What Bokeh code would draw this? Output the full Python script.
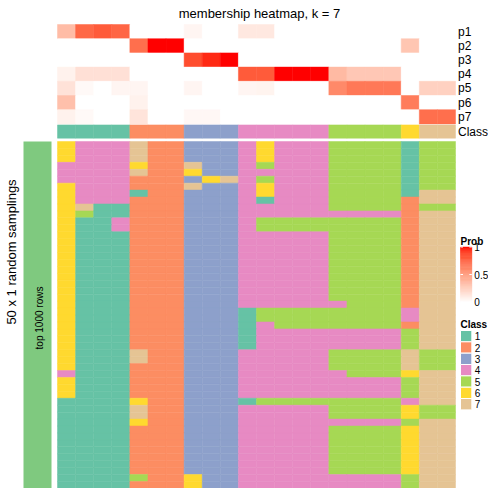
import math
from bokeh.plotting import figure
from bokeh.models import Range1d
from bokeh.embed import file_html
from bokeh.resources import INLINE
from bokeh.core.properties import value

# ---------------- data ----------------
title = "membership heatmap, k = 7"
classes = ["1", "2", "3", "4", "5", "6", "7"]
class_colors = ["#66C2A5", "#FC8D62", "#8DA0CB", "#E78AC3", "#A6D854", "#FFD92F", "#E5C494"]
prob_names = ["p1", "p2", "p3", "p4", "p5", "p6", "p7"]

p1 = [0.35, 0.75, 0.80, 0.76, 0, 0, 0, 0.05, 0, 0, 0.12, 0.12, 0, 0, 0, 0, 0, 0, 0, 0, 0, 0]
p2 = [0, 0, 0, 0, 0.72, 1.0, 1.0, 0, 0, 0, 0, 0, 0, 0, 0, 0, 0, 0, 0, 0.30, 0, 0]
p3 = [0, 0, 0, 0, 0, 0, 0, 0.85, 0.95, 1.0, 0, 0, 0, 0, 0, 0, 0, 0, 0, 0, 0, 0]
p4 = [0.07, 0.16, 0.16, 0.16, 0, 0, 0, 0, 0, 0, 0.80, 0.80, 1.0, 1.0, 1.0, 0.36, 0.29, 0.29, 0.29, 0, 0, 0]
p5 = [0.15, 0.03, 0, 0.05, 0.05, 0, 0, 0.05, 0, 0, 0.05, 0.06, 0, 0, 0, 0.60, 0.68, 0.68, 0.68, 0, 0.24, 0.24]
p6 = [0.33, 0, 0, 0, 0.07, 0, 0, 0, 0, 0, 0, 0, 0, 0, 0, 0, 0, 0, 0, 0.66, 0, 0]
p7 = [0.07, 0.03, 0, 0, 0.14, 0, 0, 0.04, 0.04, 0, 0, 0, 0, 0, 0, 0, 0, 0, 0, 0, 0.72, 0.72]
prob_rows = [p1, p2, p3, p4, p5, p6, p7]

sample_class = [1, 1, 1, 1, 2, 2, 2, 3, 3, 3, 4, 4, 4, 4, 4, 5, 5, 5, 5, 6, 7, 7]

membership = [
    "6444722333464445555155",
    "6444722333464445555155",
    "6444722333464445555155",
    "4444622733454445555155",
    "4444722633444445555155",
    "4444222367454445555155",
    "6444222733464445555155",
    "6444122333464445555177",
    "6444222333414445555277",
    "6711222333444445555255",
    "6511222333444444444277",
    "6114222333455555555277",
    "6114222333455555555277",
    "6111222333444445555277",
    "6111222333444445555277",
    "6111222333444445555277",
    "6111222333444445555277",
    "6111222333444445555277",
    "6111222333444445555277",
    "6111222333444445555277",
    "6111222333444445555277",
    "6111222333444445555277",
    "6111222333444445555277",
    "6111222333444444555277",
    "6111222333155555555477",
    "6111222333155555555477",
    "6111222333145555555277",
    "6111222333144444444577",
    "6111222333144444444577",
    "6111222333144444444577",
    "6111722333444445555755",
    "6111722333444445555755",
    "6111222333444445555755",
    "4111222333444444555677",
    "6111222333444444444577",
    "6111222333444444444577",
    "6111222333444444444577",
    "1111622333155555555477",
    "1111722333444445555655",
    "1111722333444445555655",
    "1111622333444444444577",
    "1111222333444445555677",
    "1111222333444445555677",
    "1111222333444445555677",
    "1111222333444445555677",
    "1111222333444445555677",
    "1111222333444445555677",
    "1111222333444445555677",
    "1111522633444444444577",
    "1111222633444444444577",
]

prob_ticks = [0, 0.5, 1]
prob_tick_labels = ["0", "0.5", "1"]
left_label = "50 x 1 random samplings"
bar_label = "top 1000 rows"

# ---------------- colour map (white -> red, interpolated in Lab) ----------------
def srgb_to_lin(c):
    c = c / 255.0
    return c / 12.92 if c <= 0.04045 else ((c + 0.055) / 1.055) ** 2.4

def lin_to_srgb(c):
    c = max(0.0, min(1.0, c))
    v = 12.92 * c if c <= 0.0031308 else 1.055 * c ** (1 / 2.4) - 0.055
    return int(round(max(0, min(1, v)) * 255))

def rgb_to_lab(rgb):
    r, g, b = [srgb_to_lin(v) for v in rgb]
    X = 0.4124 * r + 0.3576 * g + 0.1805 * b
    Y = 0.2126 * r + 0.7152 * g + 0.0722 * b
    Z = 0.0193 * r + 0.1192 * g + 0.9505 * b
    Xn, Yn, Zn = 0.95047, 1.0, 1.08883
    def f(t):
        return t ** (1 / 3) if t > 216 / 24389 else (24389 / 27 * t + 16) / 116
    fx, fy, fz = f(X / Xn), f(Y / Yn), f(Z / Zn)
    return (116 * fy - 16, 500 * (fx - fy), 200 * (fy - fz))

def lab_to_rgb(lab):
    L, a, b = lab
    fy = (L + 16) / 116
    fx = fy + a / 500
    fz = fy - b / 200
    def finv(t):
        return t ** 3 if t ** 3 > 216 / 24389 else (116 * t - 16) / (24389 / 27)
    Xn, Yn, Zn = 0.95047, 1.0, 1.08883
    X, Y, Z = finv(fx) * Xn, finv(fy) * Yn, finv(fz) * Zn
    r = 3.2406 * X - 1.5372 * Y - 0.4986 * Z
    g = -0.9689 * X + 1.8758 * Y + 0.0415 * Z
    bb = 0.0557 * X - 0.2040 * Y + 1.0570 * Z
    return "#%02x%02x%02x" % (lin_to_srgb(r), lin_to_srgb(g), lin_to_srgb(bb))

LAB_W = rgb_to_lab((255, 255, 255))
LAB_R = rgb_to_lab((255, 0, 0))

def prob_color(v):
    v = max(0.0, min(1.0, v))
    return lab_to_rgb(tuple(LAB_W[i] + (LAB_R[i] - LAB_W[i]) * v for i in range(3)))

# ---------------- layout (canvas pixel space) ----------------
FONT = value("Liberation Sans")
W = H = 488
HM_X0, HM_X1 = 57.0, 455.0
ncol = len(sample_class)
col_w = (HM_X1 - HM_X0) / ncol
TOP_Y0, PROB_H = 24.0, 14.2
CLASS_Y0, CLASS_Y1 = 124.4, 137.7
BOT_Y0, BOT_Y1 = 141.0, 488.0
nrow = len(membership)
row_h = (BOT_Y1 - BOT_Y0) / nrow
LABEL_X = HM_X1 + 2.5
LEG_X0, LEG_W = HM_X1 + 5.0, 11.34
LEG_LAB_X = LEG_X0 + LEG_W + 2.5

p = figure(width=W, height=H, x_range=Range1d(0, W), y_range=Range1d(H, 0),
           output_backend="svg", toolbar_location=None, min_border=0,
           x_axis_location=None, y_axis_location=None)
p.grid.grid_line_color = None
p.outline_line_color = None
p.background_fill_color = "white"
p.border_fill_color = "white"

# top probability heatmap
L, R, T, B, C = [], [], [], [], []
for i, row in enumerate(prob_rows):
    for j, v in enumerate(row):
        L.append(HM_X0 + j * col_w); R.append(HM_X0 + (j + 1) * col_w)
        T.append(TOP_Y0 + i * PROB_H); B.append(TOP_Y0 + (i + 1) * PROB_H)
        C.append(prob_color(v))
p.quad(left=L, right=R, top=T, bottom=B, fill_color=C, line_color=C, line_width=0.5)

# class annotation row
L, R, C = [], [], []
for j, k in enumerate(sample_class):
    L.append(HM_X0 + j * col_w); R.append(HM_X0 + (j + 1) * col_w)
    C.append(class_colors[k - 1])
p.quad(left=L, right=R, top=[CLASS_Y0] * ncol, bottom=[CLASS_Y1] * ncol,
       fill_color=C, line_color=C, line_width=0.5)

# row labels
lab_y = [TOP_Y0 + (i + 0.5) * PROB_H for i in range(len(prob_names))] + [(CLASS_Y0 + CLASS_Y1) / 2]
p.text(x=[LABEL_X] * len(lab_y), y=lab_y, text=prob_names + ["Class"], text_font=FONT,
       text_font_size="12px", text_align="left", text_baseline="middle", text_color="black")

# membership heatmap
L, R, T, B, C = [], [], [], [], []
for i, row in enumerate(membership):
    for j, ch in enumerate(row):
        L.append(HM_X0 + j * col_w); R.append(HM_X0 + (j + 1) * col_w)
        T.append(BOT_Y0 + i * row_h); B.append(BOT_Y0 + (i + 1) * row_h)
        C.append(class_colors[int(ch) - 1])
p.quad(left=L, right=R, top=T, bottom=B, fill_color=C, line_color=C, line_width=0.5)

# left bar
p.quad(left=[23], right=[51], top=[BOT_Y0], bottom=[BOT_Y1], fill_color="#7FC97F", line_color=None)
p.text(x=[38.5], y=[(BOT_Y0 + BOT_Y1) / 2 + 3], text=[bar_label], angle=math.pi / 2, text_font=FONT,
       text_font_size="10px", text_align="center", text_baseline="middle", text_color="black")
p.text(x=[11], y=[251.5], text=[left_label], angle=math.pi / 2, text_font=FONT,
       text_font_size="13px", text_align="center", text_baseline="middle", text_color="black")

# title
p.text(x=[259], y=[13], text=[title], text_font=FONT, text_font_size="13px",
       text_align="center", text_baseline="alphabetic", text_color="black")

# Prob legend
PY0, PY1 = 301.5, 246.5  # value 0 -> PY0, value 1 -> PY1
def py(v):
    return PY0 + (PY1 - PY0) * v
nsl = 60
vals = [i / nsl for i in range(nsl)]
p.quad(left=[LEG_X0] * nsl, right=[LEG_X0 + LEG_W] * nsl,
       bottom=[py(v) for v in vals], top=[py(v + 1 / nsl) for v in vals],
       fill_color=[prob_color(v + 0.5 / nsl) for v in vals],
       line_color=[prob_color(v + 0.5 / nsl) for v in vals], line_width=0.5)
tk_y = [py(v) for v in prob_ticks]
p.segment(x0=[LEG_X0] * 3, x1=[LEG_X0 + 2.5] * 3, y0=tk_y, y1=tk_y, line_color="white", line_width=1)
p.segment(x0=[LEG_X0 + LEG_W - 2.5] * 3, x1=[LEG_X0 + LEG_W] * 3, y0=tk_y, y1=tk_y,
          line_color="white", line_width=1)
p.text(x=[LEG_LAB_X] * 3, y=tk_y, text=prob_tick_labels, text_font=FONT, text_font_size="10px",
       text_align="left", text_baseline="middle", text_color="black")
p.text(x=[LEG_X0], y=[240.7], text=["Prob"], text_font=FONT, text_font_size="10px",
       text_font_style="bold", text_align="left", text_baseline="alphabetic", text_color="black")

# Class legend
CY0 = 330.0
p.text(x=[LEG_X0], y=[324.0], text=["Class"], text_font=FONT, text_font_size="10px",
       text_font_style="bold", text_align="left", text_baseline="alphabetic", text_color="black")
n = len(classes)
p.quad(left=[LEG_X0] * n, right=[LEG_X0 + LEG_W] * n,
       top=[CY0 + k * LEG_W for k in range(n)], bottom=[CY0 + (k + 1) * LEG_W for k in range(n)],
       fill_color=class_colors, line_color="white", line_width=1)
p.text(x=[LEG_LAB_X + 0.5] * n, y=[CY0 + (k + 0.5) * LEG_W for k in range(n)], text=classes,
       text_font=FONT, text_font_size="10px", text_align="left", text_baseline="middle",
       text_color="black")

open("out.html", "w").write(file_html(p, INLINE))
